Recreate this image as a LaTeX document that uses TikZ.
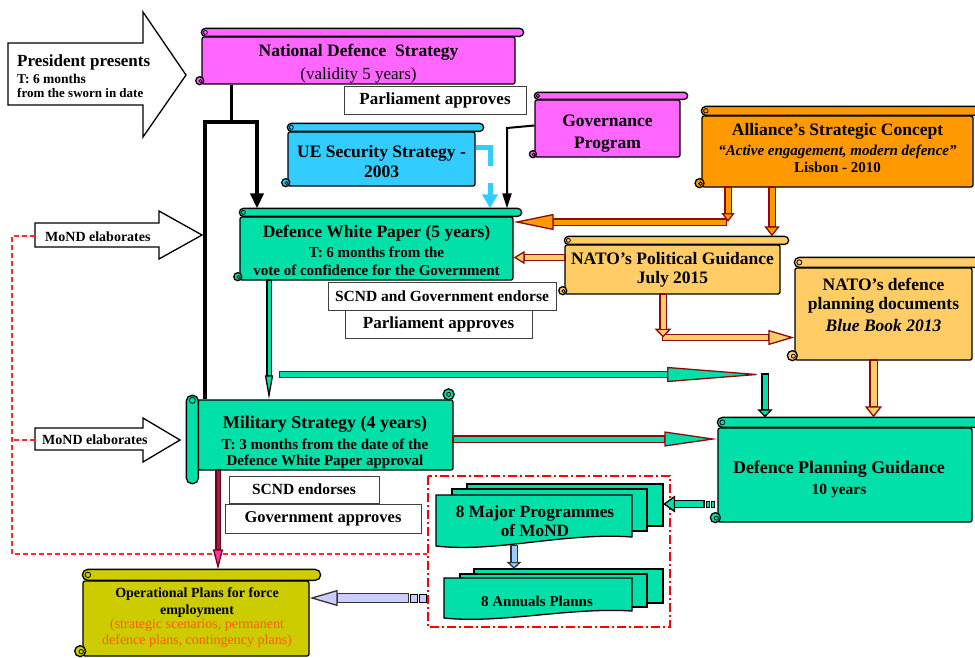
\documentclass[tikz,border=0pt]{standalone}
\usepackage{fontspec}
\setmainfont{Liberation Serif}
\usetikzlibrary{arrows.meta}

\definecolor{magentabox}{HTML}{FF66FF}
\definecolor{cyanbox}{HTML}{33CCFF}
\definecolor{orangebox}{HTML}{FF9900}
\definecolor{paleorange}{HTML}{FFCC66}
\definecolor{tealbox}{HTML}{00E0A8}
\definecolor{olivebox}{HTML}{CCCC00}
\definecolor{maroonline}{HTML}{8B0A0A}
\definecolor{plumline}{HTML}{70001E}
\definecolor{plumshaft}{HTML}{A01E46}
\definecolor{pinkhead}{HTML}{FF3399}
\definecolor{lavender}{HTML}{CCCCFF}
\definecolor{skyarrow}{HTML}{99CCFF}
\definecolor{notered}{HTML}{FF5A00}
\definecolor{dashred}{HTML}{FF2A2A}
\definecolor{framered}{HTML}{FF0000}

% font size with a fixed 20pt line pitch
\newcommand{\fsz}[1]{\fontsize{#1}{20}\selectfont}

\tikzset{
  edge/.style={draw=black, line width=1.3pt},
  scrollbody/.style={edge, rounded corners=2pt, inner sep=0pt},
  scrolltext/.style={align=center, inner sep=0pt, font=\bfseries\fsz{17.5}},
  notebox/.style={draw=black!75, line width=0.9pt, fill=white, inner sep=0pt,
                  align=center, font=\bfseries\fsz{17}},
  calloutarrow/.style={draw=black, line width=1.3pt, fill=white, line join=miter},
  mondash/.style={draw=dashred, line width=2pt, dash pattern=on 5pt off 3pt},
  groupframe/.style={draw=framered, line width=1.8pt,
                     dash pattern=on 9pt off 3pt on 2pt off 3pt},
  docsheet/.style={edge, fill=tealbox, line join=miter},
  stripe/.style={draw=black, line width=0.9pt},
}

% rolled band on top and curls at the left of a scroll body
% #1 node, #2 fill colour, #3 band height
\newcommand{\scrolldeco}[3]{%
  \draw[edge, fill=#2, rounded corners=0.5*#3]
    ([yshift=#3]#1.north west) rectangle ([xshift=#3]#1.north east);
  \draw[line width=0.8pt] ([xshift=0.5*#3, yshift=0.5*#3]#1.north west) circle (0.25*#3);
  \draw[edge, fill=#2] ([xshift=-0.2*#3, yshift=0.5*#3]#1.south west) circle (0.5*#3);
  \draw[line width=0.8pt] ([xshift=-0.1*#3, yshift=0.45*#3]#1.south west) circle (0.2*#3);
  \coordinate (#1-top) at ([yshift=#3]#1.north);
}

% outlined block arrow
% #1 outline, #2 shaft fill, #3 head fill, #4 shaft width, #5 head width, #6 head length, #7 path
\newcommand{\blockarrow}[7]{%
  \draw[draw=#1, line width=#4+2.4pt, line join=miter, shorten <=-1.2pt,
        -{Triangle[width=#5, length=#6, line width=1.3pt, fill=#3]}] #7;
  \draw[draw=#2, line width=#4, line join=miter, shorten >=#6] #7;
}

\begin{document}
\begin{tikzpicture}[x=1pt, y=-1pt]
\fill[white] (0,0) rectangle (975,657);
\useasboundingbox (0,0) rectangle (975,657);

% ---------- callout arrows ----------
\draw[calloutarrow] (8,43) -- (143,43) -- (143,12) -- (186,75) -- (143,137) -- (143,105) -- (8,105) -- cycle;
\node[anchor=west, align=left, inner sep=0pt, font=\bfseries\fsz{17}] (prestext) at (17,76)
  {President presents\\[-3pt]{\fsz{13.5}T: 6 months}\\[-6pt]{\fsz{13}from the sworn in date}};

\draw[calloutarrow] (35,223) -- (159,223) -- (159,211) -- (202,235) -- (159,259) -- (159,247) -- (35,247) -- cycle;
\node[anchor=west, inner sep=0pt, font=\bfseries\fsz{14}] (mond1) at (45,237) {MoND elaborates};
\coordinate (mond1tail) at (35,236);

\draw[calloutarrow] (35,428) -- (143,428) -- (143,418) -- (180,440) -- (143,462) -- (143,450) -- (35,450) -- cycle;
\node[anchor=west, inner sep=0pt, font=\bfseries\fsz{14}] (mond2) at (42,440) {MoND elaborates};
\coordinate (mond2tail) at (35,440);

% red dashed return line and the programme group frame
\coordinate (dashcorner) at (12,554);
\coordinate (dashend) at (427,554);
\draw[mondash] (mond1tail) -- (mond1tail -| dashcorner) -- (dashcorner) -- (dashend);
\draw[mondash] (mond2tail) -- (mond2tail -| dashcorner);
\draw[groupframe] (428,476) rectangle (670,627);

% ---------- scrolls and boxes ----------
\node[scrollbody, fill=magentabox, minimum width=313pt, minimum height=47pt] (nds) at (358.5,60.5) {};
\scrolldeco{nds}{magentabox}{8pt}
\node[scrolltext] (ndstext) at ([yshift=-3pt]nds.center)
  {National Defence\ \ Strategy\\[3pt]{\mdseries\fsz{17}(validity 5 years)}};

\node[notebox, minimum width=182pt, minimum height=28pt] (parl1) at (435,100) {Parliament approves};

\node[scrollbody, fill=cyanbox, minimum width=187pt, minimum height=54pt] (ue) at (381.5,159) {};
\scrolldeco{ue}{cyanbox}{8pt}
\node[scrolltext] (uetext) at ([yshift=-3pt]ue.center) {UE Security Strategy -\\2003};

\node[scrollbody, fill=magentabox, minimum width=145pt, minimum height=57pt] (gov) at (607.5,128.5) {};
\scrolldeco{gov}{magentabox}{7pt}
\node[scrolltext] (govtext) at ([yshift=-5pt]gov.center) {Governance\\[2pt]Program};

\node[scrollbody, fill=orangebox, minimum width=271pt, minimum height=71pt] (asc) at (837.5,151.5) {};
\scrolldeco{asc}{orangebox}{9pt}
\node[scrolltext] (asctext) at ([yshift=3.5pt]asc.center)
  {Alliance’s Strategic Concept\\[0pt]{\fsz{15}\itshape “Active engagement, modern defence”}\\[-3pt]{\fsz{15}Lisbon - 2010}};

\node[scrollbody, fill=tealbox, minimum width=273pt, minimum height=63pt] (dwp) at (376.5,248.5) {};
\scrolldeco{dwp}{tealbox}{8pt}
\node[scrolltext] (dwptext) at ([yshift=-1.5pt]dwp.center)
  {Defence White Paper (5 years)\\[0pt]{\fsz{15}T: 6 months from the}\\[-2pt]{\fsz{15}vote of confidence for the Government}};

\node[notebox, font=\bfseries\fsz{15.5}, minimum width=228pt, minimum height=28pt] (scnd1) at (442,296)
  {SCND and Government endorse};
\node[notebox, minimum width=187pt, minimum height=28pt] (parl2) at (438.5,324) {Parliament approves};

\node[scrollbody, fill=paleorange, minimum width=215pt, minimum height=49pt] (npg) at (672.5,269.5) {};
\scrolldeco{npg}{paleorange}{8pt}
\node[scrolltext] (npgtext) at (npg.center) {NATO’s Political Guidance\\[-1pt]July 2015};

\node[scrollbody, fill=paleorange, minimum width=177pt, minimum height=92pt] (ndpd) at (883.5,314) {};
\scrolldeco{ndpd}{paleorange}{10pt}
\node[scrolltext] (ndpdtext) at ([yshift=9pt]ndpd.center)
  {NATO’s defence\\[-1pt]planning documents\\[2pt]{\itshape Blue Book 2013}};

% military strategy: body, left roll and top-right curl
\node[scrollbody, fill=tealbox, minimum width=260pt, minimum height=70pt] (ms) at (323,435) {};
\draw[edge, fill=tealbox, rounded corners=5.5pt]
  ([xshift=-6pt, yshift=4pt]ms.north west) rectangle ([xshift=6pt, yshift=-13pt]ms.south west);
\draw[line width=0.8pt] ([yshift=-1pt]ms.north west) circle (3pt);
\draw[edge, fill=tealbox] ([xshift=-5pt, yshift=5pt]ms.north east) circle (5.5pt);
\draw[line width=0.8pt] ([xshift=-5pt, yshift=5pt]ms.north east) circle (2pt);
\node[scrolltext, font=\bfseries\fsz{18}] (mstext) at (325,442)
  {Military Strategy (4 years)\\[1pt]{\fsz{15}T: 3 months from the date of the}\\[-4pt]{\fsz{15}Defence White Paper approval}};

\node[notebox, font=\bfseries\fsz{15.5}, minimum width=150pt, minimum height=27pt] (scnd2) at (304,489.5) {SCND endorses};
\node[notebox, font=\bfseries\fsz{16.5}, minimum width=196pt, minimum height=29pt] (govap) at (323,518.5) {Government approves};

\node[scrollbody, fill=tealbox, minimum width=254pt, minimum height=94pt] (dpg) at (845,475) {};
\scrolldeco{dpg}{tealbox}{10pt}
\node[scrolltext, font=\bfseries\fsz{17.9}] (dpgtext) at ([xshift=-6pt, yshift=-4pt]dpg.center)
  {Defence Planning Guidance\\[1pt]{\fsz{15.5}10 years}};

\node[scrollbody, fill=olivebox, minimum width=226pt, minimum height=75pt] (op) at (196,618.5) {};
\scrolldeco{op}{olivebox}{11pt}
\node[scrolltext, font=\bfseries\fsz{14}] (optitle) at (197,602.5)
  {Operational Plans for force\\[-3pt]employment};
\node[align=center, inner sep=0pt, font=\fsz{14}, text=notered] (opnote) at (197,633)
  {(strategic scenarios, permanent\\[-4pt]defence plans, contingency plans)};

% document stacks
\draw[docsheet] (467,484) rectangle (663,526);
\draw[docsheet] (452,489) rectangle (647,531);
\draw[docsheet] (436,495) -- (632,495) -- (632,537) .. controls (565,532) and (495,553) .. (436,546) -- cycle;
\node[inner sep=0pt, minimum width=227pt, minimum height=62pt] (mp) at (549.5,515) {};
\node[scrolltext, font=\bfseries\fsz{17.2}] (mptext) at (535,521) {8 Major Programmes\\[-1pt]of MoND};

\draw[docsheet] (474,569) rectangle (663,603);
\draw[docsheet] (460,574) rectangle (647,607);
\draw[docsheet] (444,578) -- (632,578) -- (632,611) .. controls (570,607) and (500,624) .. (444,618) -- cycle;
\node[inner sep=0pt, minimum width=219pt, minimum height=49pt] (ap) at (553.5,593.5) {};
\node[scrolltext, font=\bfseries\fsz{15}] (aptext) at (537,601) {8 Annuals Planns};

% ---------- connectors ----------
\coordinate (split) at (231,122);
\coordinate (barL) at (205,122);
\coordinate (barR) at (257,122);
\draw[line width=3pt] (nds.south -| split) -- (split);
\draw[line width=4.5pt, line join=miter, -{Triangle[width=13pt,length=15pt]}]
  (barL |- ms.north) -- (barL) -- (barR) -- (barR |- dwp-top);

\coordinate (govout) at ([yshift=3pt]gov.west);
\coordinate (govbend) at (507,128);
\draw[line width=2pt, -{Triangle[width=9pt,length=15pt]}] (govout) -- (govbend) -- (govbend |- dwp-top);

\coordinate (ueout) at ([yshift=12pt]ue.east);
\coordinate (uebend) at (490,147);
\draw[cyanbox, line width=5pt, line join=miter, dash pattern=on 33pt off 17pt, -{Triangle[width=15pt,length=14pt]}]
  (ueout) -- (uebend) -- (uebend |- dwp-top);

% alliance concept and NATO guidance feeds
\coordinate (xa) at (728,0);
\coordinate (xb) at (772,0);
\coordinate (ya) at (0,222);
\coordinate (h1s) at (726,222);
\blockarrow{maroonline}{orangebox}{orangebox}{5pt}{16pt}{40pt}{(h1s) -- (dwp.east |- ya)}
\blockarrow{maroonline}{orangebox}{orangebox}{5pt}{13pt}{9pt}{(asc.south -| xa) -- (xa |- ya)}
\blockarrow{maroonline}{orangebox}{orangebox}{5pt}{15pt}{10pt}{(asc.south -| xb) -- (xb |- npg-top)}

\coordinate (p1s) at ([yshift=12pt]npg.west);
\blockarrow{maroonline}{paleorange}{paleorange}{5pt}{13pt}{11pt}{(p1s) -- (dwp.east |- p1s)}
\coordinate (xc) at (663,0);
\coordinate (p2e) at ([yshift=-23.5pt]ndpd.west);
\blockarrow{maroonline}{paleorange}{paleorange}{5pt}{15pt}{26pt}{(xc |- p2e) -- (p2e)}
\blockarrow{maroonline}{paleorange}{paleorange}{5pt}{17pt}{9pt}{(npg.south -| xc) -- (xc |- p2e)}
\coordinate (xd) at (873.5,0);
\blockarrow{maroonline}{paleorange}{paleorange}{6pt}{17pt}{11pt}{(ndpd.south -| xd) -- (xd |- dpg-top)}

% white paper and military strategy feeds
\coordinate (xf) at (269,0);
\blockarrow{black}{tealbox}{tealbox}{3pt}{8pt}{24pt}{(dwp.south -| xf) -- (xf |- ms.north)}
\coordinate (t1s) at (280,374.5);
\coordinate (xe) at (765,0);
\blockarrow{maroonline}{tealbox}{tealbox}{5pt}{15pt}{98pt}{(t1s) -- (xe |- t1s)}
\blockarrow{black}{tealbox}{tealbox}{5pt}{15pt}{8pt}{(xe |- t1s) -- (xe |- dpg-top)}
\coordinate (t3s) at ([yshift=-4pt]ms.east);
\blockarrow{maroonline}{tealbox}{tealbox}{5pt}{15pt}{53pt}{(t3s) -- (dpg.west |- t3s)}

% planning guidance to the programmes
\coordinate (t4s) at ([xshift=-14pt, yshift=-29pt]dpg.west);
\blockarrow{black}{tealbox}{tealbox}{6pt}{17pt}{12pt}{(t4s) -- (mp.east |- t4s)}
\draw[stripe, fill=tealbox] (706,501) rectangle (709,507);
\draw[stripe, fill=tealbox] (711,501) rectangle (714,507);

\coordinate (xg) at (514,0);
\blockarrow{black!80}{skyarrow}{skyarrow}{5pt}{15pt}{7pt}{(mp.south -| xg) -- (xg |- ap.north)}

% annual plans and military strategy to operational plans
\coordinate (lavs) at (408,598);
\blockarrow{black!80}{lavender}{lavender}{8pt}{16pt}{28pt}{(lavs) -- (op.east |- lavs)}
\draw[stripe, fill=lavender] (410,594) rectangle (417,602);
\draw[stripe, fill=lavender] (419,594) rectangle (426,602);

\coordinate (xh) at (218,0);
\blockarrow{plumline}{plumshaft}{pinkhead}{3pt}{10pt}{20pt}{(ms.south -| xh) -- (xh |- op-top)}

\end{tikzpicture}
\end{document}
